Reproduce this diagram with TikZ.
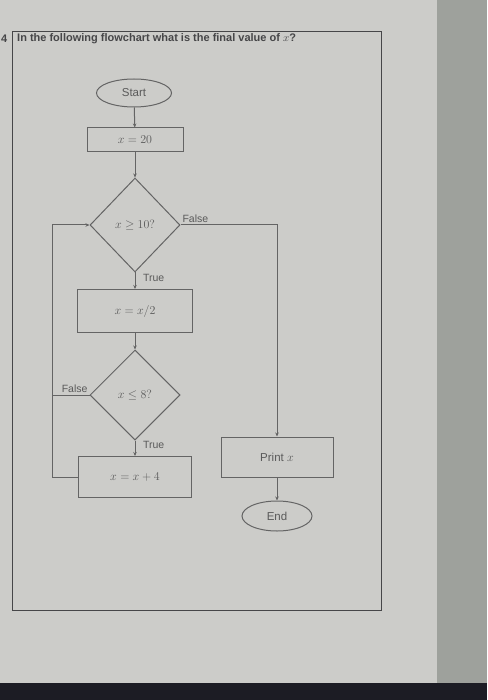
\documentclass[tikz,border=0pt]{standalone}
\usepackage{fontspec}
\setmainfont{Liberation Sans}
\usetikzlibrary{arrows.meta, positioning, shapes.geometric}
\definecolor{ScreenGray}{RGB}{204, 204, 201}
\definecolor{StripGray}{RGB}{158, 161, 156}
\definecolor{BezelDark}{RGB}{28, 28, 36}
\definecolor{FrameGray}{RGB}{70, 70, 72}
\definecolor{LineGray}{RGB}{100, 100, 100}
\definecolor{TextGray}{RGB}{90, 90, 90}
\newcommand{\flowfont}{\fontsize{11.5}{13}\selectfont}
\newcommand{\lblfont}{\fontsize{10.5}{12}\selectfont}
\tikzset{
  procbox/.style={rectangle, draw=LineGray, line width=1pt,
                  font=\flowfont, text=TextGray, inner sep=0pt},
  termnode/.style={ellipse, draw=LineGray, line width=1pt,
                   font=\flowfont, text=TextGray, inner sep=0pt},
  decnode/.style={diamond, draw=LineGray, line width=1pt,
                  minimum width=90pt, minimum height=94pt,
                  font=\flowfont, text=TextGray, inner sep=0pt},
  arr/.style={-{Stealth[length=4pt, width=3.5pt]}, line width=1pt, draw=LineGray},
  lbl/.style={font=\lblfont, text=TextGray, inner sep=1.5pt},
  titletext/.style={font=\fontsize{11}{13}\selectfont\bfseries, text=FrameGray, inner sep=0pt},
}
\begin{document}
\begin{tikzpicture}[x=1pt, y=-1pt]
  \useasboundingbox (0,0) rectangle (487,700);
  % screen and frame
  \fill[ScreenGray] (0,0) rectangle (487,700);
  \fill[StripGray] (437,0) rectangle (487,683);
  \fill[BezelDark] (0,683) rectangle (487,700);
  \draw[FrameGray, line width=0.8pt] (12,31) rectangle (381,610);
  \node[titletext, anchor=west] (qnum) at (1,39) {4};
  \node[titletext, anchor=west] (question) at (17,39)
    {In the following flowchart what is the final value of $x$?};
  % flowchart
  \node[termnode, minimum width=75pt, minimum height=28pt] (start) at (134,93) {Start};
  \node[procbox, minimum width=96pt, minimum height=24pt] (init) at (135,140) {$x=20$};
  \node[decnode] (test1) at (135,225) {$x\geq 10?$};
  \node[procbox, minimum width=115pt, minimum height=43pt] (halve) at (135,311) {$x=x/2$};
  \node[decnode, minimum height=90pt] (test2) at (135,395) {$x\leq 8?$};
  \node[procbox, minimum width=113pt, minimum height=41pt] (add) at (135,477) {$x=x+4$};
  \node[procbox, minimum width=112pt, minimum height=40pt] (print) at (277,457) {Print $x$};
  \node[termnode, minimum width=70pt, minimum height=30pt] (stop) at (277,516) {End};
  \coordinate (loopX) at (52,0);
  \draw[arr] (start) -- (init);
  \draw[arr] (init) -- (test1);
  \draw[arr] (test1) -- node[lbl, right, pos=0.3, xshift=6pt] {True} (halve);
  \draw[arr] (test1.east) -- node[lbl, above right, pos=0] {False} (test1.east -| print)
    -- (print.north);
  \draw[arr] (halve) -- (test2);
  \draw[arr] (test2) -- node[lbl, right, pos=0.3, xshift=6pt] {True} (add);
  \draw[LineGray, line width=1pt] (test2.west)
    -- node[lbl, above left, pos=0] {False} (test2.west -| loopX);
  \draw[arr] (add.west) -- (add.west -| loopX) |- (test1.west);
  \draw[arr] (print) -- (stop);
\end{tikzpicture}
\end{document}
